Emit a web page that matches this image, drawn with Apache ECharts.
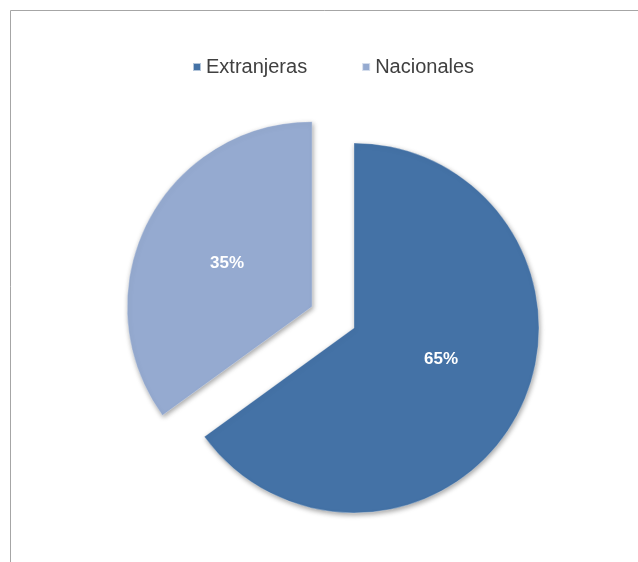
<!DOCTYPE html>
<html>
<head>
<meta charset="utf-8">
<script src="https://cdn.jsdelivr.net/npm/echarts@6/dist/echarts.min.js"></script>
<style>html,body{margin:0;padding:0;background:#fff}#c{width:638px;height:562px}</style>
</head>
<body>
<div id="c"></div>
<script>
var categories = ['Extranjeras', 'Nacionales'];
var values = [65, 35];
var colors = ['#4472A6', '#95AAD0'];
var explodedIndex = 1;

var chart = echarts.init(document.getElementById('c'), null, {renderer: 'canvas'});
var data = categories.map(function (name, i) {
  return {
    name: name,
    value: values[i],
    selected: i === explodedIndex,
    itemStyle: {color: colors[i]}
  };
});
chart.setOption({
  animation: false,
  backgroundColor: '#ffffff',
  graphic: [{
    type: 'rect',
    shape: {x: 10.5, y: 10.5, width: 700, height: 700},
    style: {fill: 'none', stroke: '#a6a6a6', lineWidth: 1},
    silent: true
  }],
  legend: {
    top: 52,
    left: 187,
    icon: 'rect',
    itemWidth: 8,
    itemHeight: 8,
    itemGap: 54,
    selectedMode: false,
    textStyle: {fontFamily: 'Liberation Sans, Arial, sans-serif', fontSize: 20, color: '#404040'}
  },
  series: [{
    type: 'pie',
    center: [354, 328],
    radius: [0, 185],
    startAngle: 90,
    clockwise: true,
    selectedMode: 'single',
    selectedOffset: 47,
    silent: true,
    data: data,
    itemStyle: {
      borderColor: 'rgba(255,255,255,0.6)',
      borderWidth: 0.5,
      shadowBlur: 5,
      shadowOffsetX: 1,
      shadowOffsetY: 2,
      shadowColor: 'rgba(0,0,0,0.35)'
    },
    label: {
      show: true,
      position: 'inside',
      formatter: '{d}%',
      color: '#ffffff',
      fontFamily: 'Liberation Sans, Arial, sans-serif',
      fontWeight: 'bold',
      fontSize: 17
    },
    labelLayout: function (params) {
      return params.dataIndex === 0 ? {dy: -12, dx: 2} : {};
    },
    labelLine: {show: false},
    emphasis: {disabled: true}
  }]
});
</script>
</body>
</html>
